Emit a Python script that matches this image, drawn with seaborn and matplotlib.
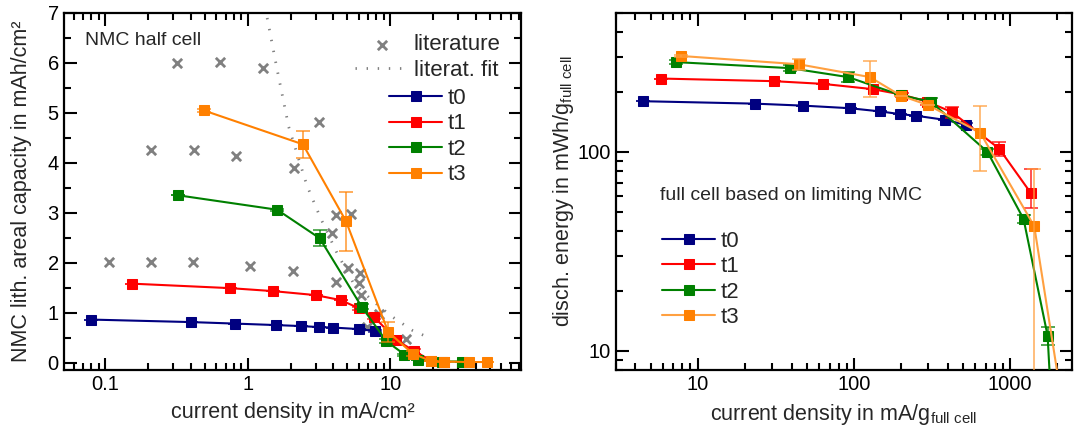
import numpy as np
import pandas as pd
import matplotlib
matplotlib.use("Agg")
import matplotlib.pyplot as plt
import seaborn as sns
from matplotlib.ticker import LogLocator, NullFormatter, MultipleLocator

# ---------------- data: left panel (half cell) ----------------
series = ["t0", "t1", "t2", "t3"]

L_t0_x = [0.08, 0.40, 0.81, 1.58, 2.37, 3.16, 4.0, 6.0, 7.85]
L_t0_y = [0.86, 0.81, 0.78, 0.75, 0.73, 0.71, 0.70, 0.67, 0.63]
L_t0_e = [0.0, 0.0, 0.0, 0.0, 0.0, 0.0, 0.0, 0.0, 0.02]

L_t1_x = [0.153, 0.75, 1.51, 3.0, 4.5, 6.0, 7.7, 11.0, 14.8, 19.3, 24.0]
L_t1_y = [1.58, 1.49, 1.43, 1.35, 1.25, 1.09, 0.92, 0.45, 0.23, 0.04, 0.02]
L_t1_e = [0.0, 0.0, 0.0, 0.0, 0.0, 0.03, 0.05, 0.05, 0.05, 0.0, 0.0]

L_t2_x = [0.323, 1.61, 3.2, 6.3, 9.4, 12.6, 15.7, 23.0, 32.0]
L_t2_y = [3.35, 3.06, 2.49, 1.12, 0.43, 0.16, 0.05, 0.02, 0.02]
L_t2_e = [0.0, 0.02, 0.16, 0.05, 0.04, 0.02, 0.0, 0.0, 0.0]

L_t3_x = [0.49, 2.44, 4.9, 9.7, 14.4, 19.3, 24.0, 35.6, 48.0]
L_t3_y = [5.05, 4.37, 2.83, 0.61, 0.18, 0.03, 0.02, 0.01, 0.01]
L_t3_e = [0.03, 0.27, 0.59, 0.2, 0.05, 0.0, 0.0, 0.0, 0.0]

lit_x = [0.106, 0.209, 0.41, 1.03, 2.07, 0.21, 0.42, 0.83, 2.11, 0.318, 0.635,
         1.28, 3.16, 4.19, 5.34, 3.93, 5.09, 6.15, 4.19, 6.0, 6.2, 8.3, 6.9, 12.9]
lit_y = [2.02, 2.02, 2.02, 1.93, 1.83, 4.25, 4.25, 4.14, 3.9, 5.99, 6.02,
         5.89, 4.81, 2.95, 2.97, 2.59, 1.9, 1.79, 1.61, 1.59, 1.35, 0.97, 0.72, 0.47]

fit_x = [1.37, 1.6, 1.94, 2.6, 3.25, 4.19, 5.5, 7.5, 10.3, 14.4, 18.0]
fit_y = [6.9, 5.9, 4.72, 3.55, 2.89, 2.22, 1.6, 1.24, 0.92, 0.64, 0.52]

# ---------------- data: right panel (full cell) ----------------
R_t0_x = [4.46, 23.2, 47.3, 94, 147, 198, 252, 385, 522]
R_t0_y = [180, 175, 171, 166, 160, 155, 152, 145, 137]
R_t0_lo = [0, 0, 0, 0, 0, 0, 0, 0, 3]
R_t0_hi = [0, 0, 0, 0, 0, 0, 0, 0, 3]

R_t1_x = [5.87, 30.8, 63.5, 132, 205, 296, 423, 853, 1365]
R_t1_y = [234, 227, 220, 207, 194, 179, 159, 104, 62]
R_t1_lo = [0, 0, 0, 0, 4, 6, 10, 9, 9.6]
R_t1_hi = [0, 0, 0, 0, 4, 6, 10, 8, 20]

R_t2_x = [7.3, 39, 92, 200, 312, 719, 1224, 1745, 1880]
R_t2_y = [283, 264, 238, 193, 179, 100, 46, 11.9, 4.0]
R_t2_lo = [6, 10, 14, 0, 8, 4, 2, 1.2, 0]
R_t2_hi = [6, 10, 14, 0, 8, 4, 2, 1.2, 0]

R_t3_x = [7.8, 44.6, 127, 200, 300, 646, 1433, 2200]
R_t3_y = [304, 276, 238, 192, 172, 125, 42.3, 5.0]
R_t3_lo = [5, 18, 50, 0, 0, 45, 41.3, 0]
R_t3_hi = [5, 16, 50, 0, 0, 46, 40, 0]

colors = {"t0": "#000080", "t1": "#ff0000", "t2": "#008000", "t3": "#ff8000"}
r_line_colors = {"t0": "#000080", "t1": "#ff0000", "t2": "#008000", "t3": "#ffa040"}

# ---------------- style ----------------
sns.set_style("ticks")
plt.rcParams["font.family"] = ["Liberation Sans", "DejaVu Sans"]
plt.rcParams["mathtext.fontset"] = "custom"
plt.rcParams["mathtext.rm"] = "Liberation Sans"
plt.rcParams["mathtext.it"] = "Liberation Sans:italic"

fig = plt.figure(figsize=(10.75, 4.45), dpi=100)
axL = fig.add_axes([0.0592, 0.1685, 0.4255, 0.8023])
axR = fig.add_axes([0.5730, 0.1685, 0.4242, 0.8023])


def style_axes(ax):
    for s in ax.spines.values():
        s.set_linewidth(1.6)
        s.set_color("black")
    ax.tick_params(which="both", direction="in", top=True, right=True,
                   labelsize=14.5, width=1.5, colors="black")
    ax.tick_params(which="major", length=9)
    ax.tick_params(which="minor", length=5)


# ---------------- left panel ----------------
axL.set_xscale("log")
sns.scatterplot(x=lit_x, y=lit_y, ax=axL, marker="x", color="#808080", s=45,
                linewidth=2, label="literature", zorder=2)
sns.lineplot(x=fit_x, y=fit_y, ax=axL, color="#808080", lw=2,
             linestyle=(0, (0.5, 3.5)), label="literat. fit", sort=False, zorder=2)

L_data = {"t0": (L_t0_x, L_t0_y, L_t0_e), "t1": (L_t1_x, L_t1_y, L_t1_e),
          "t2": (L_t2_x, L_t2_y, L_t2_e), "t3": (L_t3_x, L_t3_y, L_t3_e)}
for i, s in enumerate(series):
    x, y, e = L_data[s]
    c = colors[s]
    df = pd.DataFrame({"x": x, "y": y})
    sns.lineplot(data=df, x="x", y="y", ax=axL, color=c, lw=1.5, marker="s",
                 markersize=6.5, markeredgecolor=c, label=s, sort=False,
                 zorder=3 + i)
    axL.errorbar(x, y, yerr=e, fmt="none", ecolor=c, elinewidth=1.2,
                 capsize=5, capthick=1.2, zorder=3 + i, alpha=0.75)

axL.set_xlim(0.051, 83)
axL.set_ylim(-0.15, 7)
axL.set_xticks([0.1, 1, 10])
axL.set_xticklabels(["0.1", "1", "10"])
axL.xaxis.set_minor_locator(LogLocator(base=10, subs=np.arange(2, 10)))
axL.xaxis.set_minor_formatter(NullFormatter())
axL.yaxis.set_major_locator(MultipleLocator(1))
axL.yaxis.set_minor_locator(MultipleLocator(0.5))
style_axes(axL)
axL.set_xlabel("current density in mA/cm²", fontsize=15.5, labelpad=6)
axL.set_ylabel("NMC lith. areal capacity in mAh/cm²", fontsize=15.5, labelpad=11)
axL.text(0.047, 0.924, "NMC half cell", transform=axL.transAxes,
         fontsize=14, va="center", ha="left")

h, l = axL.get_legend_handles_labels()
lit_idx = [l.index("literature"), l.index("literat. fit")]
t_idx = [l.index(s) for s in series]
leg1 = axL.legend([h[i] for i in lit_idx], [l[i] for i in lit_idx],
                  loc="upper left", bbox_to_anchor=(0.637, 0.94), frameon=False,
                  fontsize=16, handlelength=2.4, handletextpad=0.25,
                  borderpad=0, borderaxespad=0, labelspacing=0.2)
axL.add_artist(leg1)
axL.legend([h[i] for i in t_idx], [l[i] for i in t_idx],
           loc="upper left", bbox_to_anchor=(0.711, 0.79), frameon=False,
           fontsize=16, handlelength=2.4, handletextpad=0.25,
           borderpad=0, borderaxespad=0, labelspacing=0.2)

# ---------------- right panel ----------------
axR.set_xscale("log")
axR.set_yscale("log")
R_data = {"t0": (R_t0_x, R_t0_y, R_t0_lo, R_t0_hi),
          "t1": (R_t1_x, R_t1_y, R_t1_lo, R_t1_hi),
          "t2": (R_t2_x, R_t2_y, R_t2_lo, R_t2_hi),
          "t3": (R_t3_x, R_t3_y, R_t3_lo, R_t3_hi)}
for i, s in enumerate(series):
    x, y, lo, hi = R_data[s]
    c = colors[s]
    lc = r_line_colors[s]
    df = pd.DataFrame({"x": x, "y": y})
    sns.lineplot(data=df, x="x", y="y", ax=axR, color=lc, lw=1.5, marker="s",
                 markersize=6.5, markeredgecolor=c, markerfacecolor=c,
                 label=s, sort=False, zorder=3 + i)
    axR.errorbar(x, y, yerr=[lo, hi], fmt="none", ecolor=lc, elinewidth=1.2,
                 capsize=5, capthick=1.2, zorder=3 + i, alpha=0.8)

axR.set_xlim(3, 2500)
axR.set_ylim(8, 500)
axR.set_xticks([10, 100, 1000])
axR.set_xticklabels(["10", "100", "1000"])
axR.xaxis.set_minor_locator(LogLocator(base=10, subs=np.arange(2, 10)))
axR.xaxis.set_minor_formatter(NullFormatter())
axR.set_yticks([10, 100])
axR.set_yticklabels(["10", "100"])
axR.yaxis.set_minor_locator(LogLocator(base=10, subs=np.arange(2, 10)))
axR.yaxis.set_minor_formatter(NullFormatter())
style_axes(axR)
axR.set_xlabel(r"current density in mA/g$\mathregular{_{full\ cell}}$",
               fontsize=15.5, labelpad=6)
axR.set_ylabel(r"disch. energy in mWh/g$\mathregular{_{full\ cell}}$",
               fontsize=15.5, labelpad=1)
axR.text(0.0965, 0.49, "full cell based on limiting NMC", transform=axR.transAxes,
         fontsize=14, va="center", ha="left")
axR.legend(loc="upper left", bbox_to_anchor=(0.101, 0.39), frameon=False,
           fontsize=16, handlelength=2.4, handletextpad=0.25,
           borderpad=0, borderaxespad=0, labelspacing=0.2)

fig.savefig("out.png", dpi=100)
